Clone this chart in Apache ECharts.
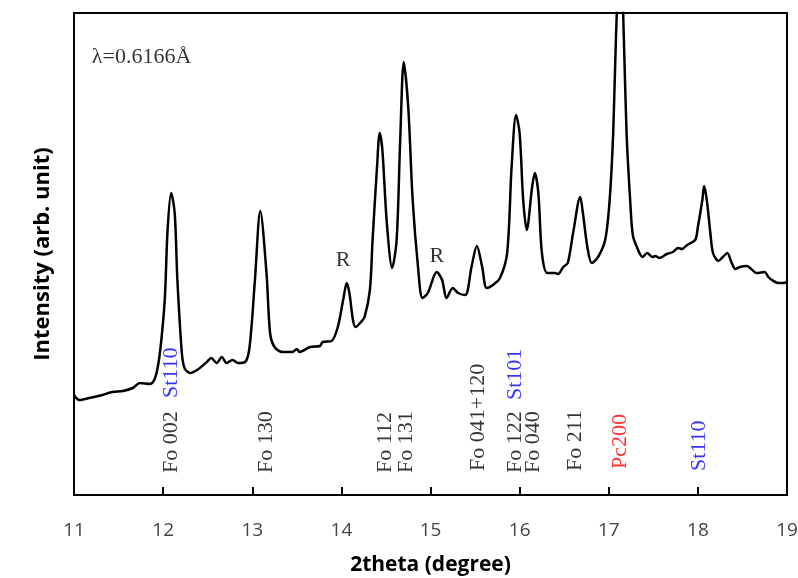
<!DOCTYPE html>
<html>
<head>
<meta charset="utf-8">
<script src="https://cdn.jsdelivr.net/npm/echarts@6/dist/echarts.min.js"></script>
<style>html,body{margin:0;padding:0;background:#fff;}#c{width:798px;height:578px;}</style>
</head>
<body>
<div id="c"></div>
<script>
const theta = [11.00,11.06,11.17,11.32,11.43,11.55,11.66,11.74,11.85,11.90,11.94,11.98,12.02,12.05,12.09,12.13,12.16,12.21,12.24,12.30,12.38,12.49,12.54,12.60,12.66,12.71,12.78,12.84,12.92,12.97,13.03,13.09,13.16,13.20,13.25,13.34,13.45,13.50,13.53,13.65,13.76,13.79,13.89,13.96,14.02,14.06,14.09,14.13,14.16,14.21,14.26,14.32,14.35,14.40,14.43,14.46,14.51,14.57,14.62,14.66,14.70,14.75,14.80,14.86,14.91,14.97,15.07,15.13,15.18,15.25,15.31,15.39,15.46,15.52,15.58,15.63,15.70,15.78,15.86,15.91,15.96,16.00,16.04,16.08,16.14,16.17,16.21,16.25,16.31,16.40,16.43,16.49,16.54,16.60,16.68,16.71,16.76,16.81,16.88,16.96,17.01,17.05,17.08,17.13,17.17,17.20,17.24,17.27,17.32,17.38,17.43,17.49,17.52,17.57,17.65,17.72,17.78,17.82,17.88,17.97,18.00,18.05,18.07,18.10,18.14,18.17,18.23,18.28,18.33,18.38,18.42,18.47,18.55,18.61,18.66,18.75,18.79,18.83,18.90,18.96,19.00];
const intensity = [100,95,97,100,103,104,107,112,111,115,128,155,198,265,302,282,215,142,127,122,125,133,137,132,138,132,135,132,133,148,215,284,222,162,148,143,143,146,143,148,149,153,154,168,195,212,202,175,168,172,178,205,255,328,362,345,272,227,255,355,433,388,295,228,197,202,223,215,197,207,202,200,228,249,228,207,210,217,242,328,380,362,295,265,308,322,302,242,222,222,221,228,232,262,298,282,248,232,238,255,295,362,455,560,455,362,295,260,247,238,242,238,239,237,241,243,247,246,250,255,268,295,309,295,262,242,234,238,242,232,226,228,229,225,222,223,218,215,212,212,213];

// x-axis ticks
const xMin = 11, xMax = 19, xStep = 1;

// reflection labels (rotated)
const peakLabels = ['Fo 002','St110','Fo 130','Fo 112','Fo 131','Fo 041+120','St101','Fo 122','Fo 040','Fo 211','Pc200','St110'];
const peakTheta  = [12.09, 12.09, 13.16, 14.49, 14.73, 15.54, 15.95, 15.95, 16.15, 16.62, 17.13, 18.01];
const peakBase   = [22, 97, 22, 22, 22, 24, 95, 22, 22, 24, 26, 24];

// upright labels
const noteText  = ['R', 'R', 'λ=0.6166Å'];
const noteTheta = [14.02, 15.07, 11.20];
const noteY     = [235, 239, 438];

const phaseColor = p => p.startsWith('St') ? '#0000ff' : (p.startsWith('Pc') ? '#ff0000' : '#000000');

const chart = echarts.init(document.getElementById('c'), null, {renderer:'canvas'});
const serif = '"Liberation Serif", "Times New Roman", serif';
const sans = '"Open Sans", "Noto Sans", sans-serif';

chart.setOption({
  animation: false,
  backgroundColor: '#fff',
  grid: {left: 74, right: 11, top: 13, bottom: 83, containLabel: false, outerBoundsMode: 'none',
    show: true, borderColor: '#000', borderWidth: 2, backgroundColor: 'transparent'},
  xAxis: {
    type: 'value', min: xMin, max: xMax, interval: xStep,
    name: '2theta (degree)', nameLocation: 'middle', nameGap: 60,
    nameTextStyle: {fontFamily: sans, fontWeight: 'bold', fontSize: 21, color: '#000'},
    axisLine: {show: true, lineStyle: {color: '#000', width: 2}},
    axisTick: {show: true, inside: true, length: 8, lineStyle: {color: '#000', width: 2}},
    axisLabel: {margin: 26, fontFamily: sans, fontSize: 19, color: '#444'},
    splitLine: {show: false}
  },
  yAxis: {
    type: 'value', min: 0, max: 482,
    name: 'Intensity (arb. unit)', nameLocation: 'middle', nameGap: 20,
    nameTextStyle: {fontFamily: sans, fontWeight: 'bold', fontSize: 22, color: '#000'},
    axisLine: {show: true, lineStyle: {color: '#000', width: 2}},
    axisTick: {show: false}, axisLabel: {show: false}, splitLine: {show: false}
  },
  series: [
    {
      type: 'line', data: theta.map((t,i)=>[t,intensity[i]]),
      smooth: 0.3, symbol: 'none', clip: true,
      lineStyle: {color: '#000', width: 2.5}
    },
    {
      type: 'scatter', symbolSize: 0, silent: true,
      data: peakLabels.map((s,i)=>({value:[peakTheta[i], peakBase[i]], name:s,
        label:{color: phaseColor(s)}})),
      label: {show: true, position: 'inside', rotate: 90, align: 'left', verticalAlign: 'middle',
        formatter: p => p.name, fontFamily: serif, fontSize: 22}
    },
    {
      type: 'scatter', symbolSize: 0, silent: true,
      data: noteText.map((s,i)=>({value:[noteTheta[i], noteY[i]], name:s,
        label: {align: i===2 ? 'left' : 'center'}})),
      label: {show: true, position: 'inside', formatter: p => p.name, fontFamily: serif, fontSize: 22, color: '#000',
        verticalAlign: 'middle'}
    }
  ]
});
</script>
</body>
</html>
